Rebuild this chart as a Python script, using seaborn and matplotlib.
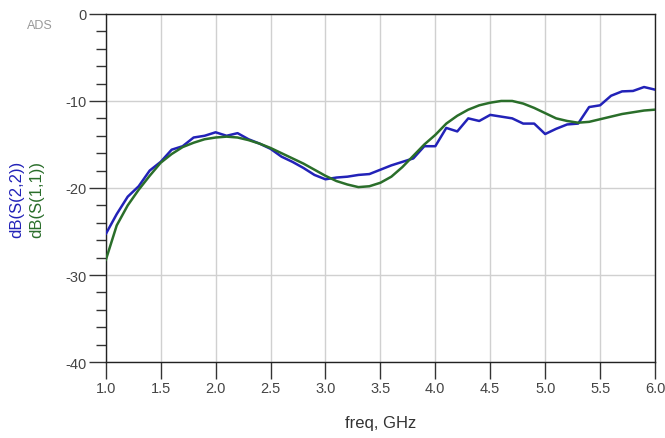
import numpy as np
import pandas as pd
import matplotlib
matplotlib.use("Agg")
import matplotlib.pyplot as plt
import seaborn as sns

# frequency points, GHz
freq = [1.0, 1.1, 1.2, 1.3, 1.4, 1.5, 1.6, 1.7, 1.8, 1.9,
        2.0, 2.1, 2.2, 2.3, 2.4, 2.5, 2.6, 2.7, 2.8, 2.9,
        3.0, 3.1, 3.2, 3.3, 3.4, 3.5, 3.6, 3.7, 3.8, 3.9,
        4.0, 4.1, 4.2, 4.3, 4.4, 4.5, 4.6, 4.7, 4.8, 4.9,
        5.0, 5.1, 5.2, 5.3, 5.4, 5.5, 5.6, 5.7, 5.8, 5.9, 6.0]

s22_db = [-25.3, -23.0, -21.0, -19.8, -18.0, -17.0, -15.6, -15.2, -14.2, -14.0,
          -13.6, -14.0, -13.7, -14.4, -14.9, -15.5, -16.4, -17.0, -17.7, -18.5,
          -19.0, -18.8, -18.7, -18.5, -18.4, -17.9, -17.4, -17.0, -16.6, -15.2,
          -15.2, -13.1, -13.5, -12.0, -12.3, -11.6, -11.8, -12.0, -12.6, -12.6,
          -13.8, -13.2, -12.7, -12.6, -10.7, -10.5, -9.4, -8.9, -8.85, -8.4, -8.7]

s11_db = [-28.3, -24.3, -22.0, -20.2, -18.6, -17.1, -16.1, -15.3, -14.8, -14.4,
          -14.2, -14.1, -14.2, -14.5, -14.9, -15.4, -16.0, -16.6, -17.2, -17.9,
          -18.6, -19.2, -19.6, -19.9, -19.8, -19.4, -18.7, -17.6, -16.3, -15.0,
          -13.9, -12.6, -11.7, -11.0, -10.5, -10.2, -10.0, -10.0, -10.3, -10.8,
          -11.4, -12.0, -12.3, -12.5, -12.4, -12.1, -11.8, -11.5, -11.3, -11.1, -11.0]

xticks = [1.0, 1.5, 2.0, 2.5, 3.0, 3.5, 4.0, 4.5, 5.0, 5.5, 6.0]
yticks = [-40, -30, -20, -10, 0]

blue = "#2222b8"
green = "#2a6e2a"

sns.set_style("white")
plt.rcParams["font.family"] = ["Liberation Sans", "DejaVu Sans"]
plt.rcParams["axes.unicode_minus"] = False

df = pd.DataFrame({"freq": freq, "S22": s22_db, "S11": s11_db})

fig = plt.figure(figsize=(6.65, 4.39), dpi=100)
ax = fig.add_axes([0.159, 0.173, 0.826, 0.793])

sns.lineplot(data=df, x="freq", y="S22", color=blue, linewidth=1.8, ax=ax, zorder=3)
sns.lineplot(data=df, x="freq", y="S11", color=green, linewidth=1.8, ax=ax, zorder=4)

ax.set_xlim(1.0, 6.0)
ax.set_ylim(-40, 0)
ax.set_xticks(xticks)
ax.set_xticklabels([f"{t:.1f}" for t in xticks])
ax.set_yticks(yticks)
ax.set_yticks(np.arange(-40, 1, 2), minor=True)
ax.grid(True, which="major", color="#d0d0d0", linewidth=1.0)
ax.tick_params(axis="both", which="major", direction="out", length=12, width=1,
               color="#333333", labelsize=10.5, labelcolor="#444444", pad=2,
               bottom=True, left=True)
ax.tick_params(axis="y", which="minor", direction="out", length=7, width=1,
               color="#333333", left=True)
ax.tick_params(axis="x", which="minor", length=0)
for sp in ax.spines.values():
    sp.set_color("#222222")
    sp.set_linewidth(1.0)

ax.set_xlabel("freq, GHz", fontsize=12, color="#333333", labelpad=14)
ax.set_ylabel("")

fig.text(0.025, 0.545, "dB(S(2,2))", rotation=90, color=blue, fontsize=12,
         ha="center", va="center")
fig.text(0.055, 0.545, "dB(S(1,1))", rotation=90, color=green, fontsize=12,
         ha="center", va="center")
fig.text(0.06, 0.94, "ADS", color="#999999", fontsize=9, ha="center", va="center")

fig.savefig("out.png", dpi=100)
